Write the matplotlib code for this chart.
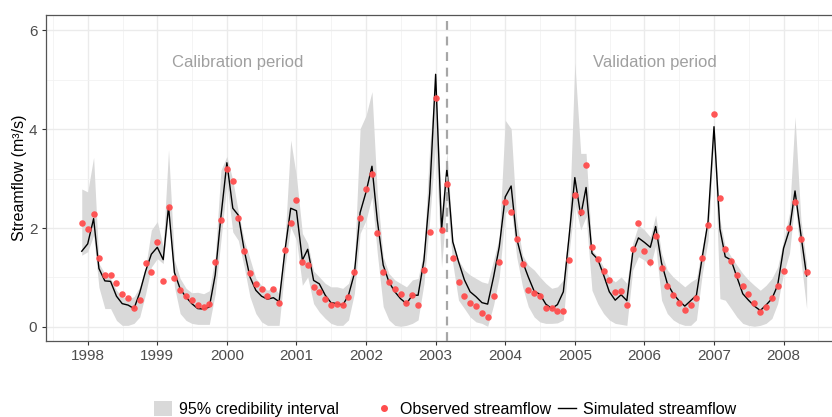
import numpy as np
import pandas as pd
import matplotlib
matplotlib.use("Agg")
import matplotlib.pyplot as plt
from matplotlib.lines import Line2D
from matplotlib.patches import Patch

plt.rcParams["font.family"] = ["Liberation Sans", "DejaVu Sans"]

# ── Data (monthly, Dec 1997 - May 2008) ───────────────────
dates = pd.date_range("1997-12-01", periods=126, freq="MS")

observed = [
    2.11, 1.98, 2.29, 1.39, 1.05, 1.04, 0.88, 0.66, 0.58, 0.39, 0.55, 1.30, 1.11, 1.71, 0.93, 2.42, 0.99, 0.74, 0.63, 0.54, 0.44,
    0.40, 0.46, 1.32, 2.17, 3.19, 2.96, 2.21, 1.53, 1.09, 0.86, 0.77, 0.62, 0.76, 0.49, 1.55, 2.11, 2.56, 1.31, 1.26, 0.81, 0.71,
    0.57, 0.45, 0.46, 0.44, 0.60, 1.10, 2.20, 2.79, 3.09, 1.90, 1.12, 0.91, 0.77, 0.67, 0.49, 0.65, 0.44, 1.15, 1.91, 4.64, 1.95,
    2.90, 1.39, 0.90, 0.63, 0.49, 0.43, 0.29, 0.20, 0.62, 1.31, 2.53, 2.33, 1.78, 1.28, 0.75, 0.68, 0.62, 0.39, 0.39, 0.33,
    0.32, 1.36, 2.67, 2.33, 3.28, 1.61, 1.38, 1.13, 0.94, 0.70, 0.72, 0.44, 1.57, 2.10, 1.53, 1.32, 1.83, 1.20, 0.82, 0.64, 0.49,
    0.35, 0.44, 0.58, 1.39, 2.06, 4.31, 2.61, 1.57, 1.33, 1.05, 0.83, 0.66, 0.49, 0.30, 0.40, 0.59, 0.82, 1.13, 2.00, 2.52, 1.77, 1.11,
]

simulated = [
    1.53, 1.68, 2.19, 1.18, 0.93, 0.92, 0.62, 0.47, 0.44, 0.37, 0.69, 1.13, 1.47, 1.61, 1.36, 2.43, 1.10, 0.77, 0.60, 0.47, 0.37,
    0.36, 0.40, 1.05, 2.23, 3.32, 2.40, 2.26, 1.55, 1.01, 0.74, 0.62, 0.56, 0.59, 0.51, 1.55, 2.40, 2.35, 1.35, 1.57, 0.94, 0.87,
    0.64, 0.49, 0.47, 0.44, 0.64, 1.08, 2.31, 2.73, 3.25, 2.16, 1.25, 0.91, 0.71, 0.57, 0.47, 0.64, 0.64, 1.35, 2.70, 5.11, 1.96,
    3.20, 1.72, 1.32, 0.95, 0.71, 0.61, 0.49, 0.46, 1.01, 1.62, 2.63, 2.85, 1.79, 1.32, 1.01, 0.72, 0.66, 0.46, 0.37, 0.45,
    0.71, 1.82, 3.02, 2.25, 2.82, 1.49, 1.37, 1.05, 0.71, 0.54, 0.65, 0.53, 1.50, 1.80, 1.71, 1.61, 2.03, 1.29, 0.88, 0.67, 0.53,
    0.42, 0.53, 0.64, 1.42, 2.13, 4.05, 1.98, 1.42, 1.35, 1.01, 0.67, 0.54, 0.42, 0.33, 0.44, 0.57, 0.84, 1.59, 1.97, 2.75, 1.86, 1.03,
]

ci_lower = [
    1.45, 1.52, 1.85, 0.80, 0.37, 0.37, 0.13, 0.03, 0.03, 0.07, 0.20, 0.67, 1.21, 1.38, 1.28, 2.29, 0.81, 0.27, 0.13, 0.07, 0.05,
    0.05, 0.05, 0.67, 1.75, 2.90, 1.92, 1.75, 1.21, 0.61, 0.27, 0.10, 0.03, 0.03, 0.03, 1.21, 2.02, 1.75, 0.84, 1.01, 0.47, 0.30,
    0.17, 0.07, 0.03, 0.03, 0.14, 0.68, 1.89, 2.16, 2.63, 1.49, 0.41, 0.14, 0.03, 0.01, 0.03, 0.07, 0.14, 0.88, 2.16, 3.70, 1.20,
    2.56, 1.28, 0.54, 0.37, 0.20, 0.10, 0.07, 0.01, 0.44, 1.01, 2.30, 2.43, 1.42, 0.81, 0.41, 0.20, 0.10, 0.07, 0.07, 0.08,
    0.14, 1.50, 2.50, 1.96, 2.23, 0.74, 0.47, 0.27, 0.14, 0.07, 0.05, 0.03, 1.15, 1.42, 1.35, 1.21, 1.65, 0.54, 0.27, 0.14, 0.07,
    0.03, 0.03, 0.14, 1.08, 1.75, 3.85, 0.57, 0.54, 0.37, 0.20, 0.07, 0.03, 0.01, 0.03, 0.07, 0.17, 0.47, 1.08, 1.49, 2.56, 1.35, 0.37,
]

ci_upper = [
    2.79, 2.73, 3.43, 1.28, 1.08, 0.98, 0.74, 0.61, 0.57, 0.61, 0.81, 1.21, 1.96, 2.13, 1.62, 3.58, 1.35, 0.98, 0.78, 0.69, 0.70,
    0.67, 0.73, 1.42, 3.17, 3.45, 2.97, 2.33, 1.75, 1.38, 0.98, 0.84, 0.74, 0.81, 0.67, 1.75, 3.78, 3.04, 1.89, 1.69, 1.13, 1.01,
    0.88, 0.81, 0.81, 0.78, 0.88, 1.28, 4.01, 4.28, 4.76, 2.70, 1.42, 1.08, 0.95, 0.88, 0.81, 0.95, 0.98, 1.55, 3.64, 5.10, 2.30,
    3.54, 1.75, 1.35, 1.15, 1.05, 0.98, 0.91, 0.88, 1.35, 1.82, 4.18, 4.01, 2.16, 1.45, 1.25, 1.15, 1.01, 0.88, 0.78, 0.81,
    0.95, 2.03, 5.35, 3.51, 3.51, 1.55, 1.42, 1.21, 1.01, 0.91, 1.01, 0.88, 1.69, 2.06, 1.96, 1.82, 2.26, 1.49, 1.15, 1.01, 0.91,
    0.81, 0.91, 0.98, 1.62, 2.23, 4.15, 2.16, 1.62, 1.42, 1.25, 1.08, 0.95, 0.84, 0.74, 0.84, 0.98, 1.21, 1.75, 2.30, 4.25, 2.16, 1.28,
]

split_date = pd.Timestamp("2003-03-01")
years = list(range(1998, 2009))


def dec_year(d):
    d = pd.DatetimeIndex(d)
    return d.year + (d.dayofyear - 1) / 365.25


t = dec_year(dates)
t_split = dec_year([split_date])[0]

# ── Plot ───────────────────────────────────────────────────
fig = plt.figure(figsize=(8.32, 4.17), dpi=100)
ax = fig.add_axes([0.0549, 0.183, 0.958, 0.781])

ax.fill_between(t, ci_lower, ci_upper, color="#D9D9D9", lw=0, zorder=2)
ax.plot(t, simulated, color="black", lw=1.0, zorder=3)
ax.scatter(t, observed, s=22, color="#FF4D4D", alpha=0.95, lw=0, zorder=4)
ax.axvline(t_split, color="#A6A6A6", lw=1.6, ls=(0, (4, 3)), zorder=3)

ax.text(2000.16, 5.34, "Calibration period", color="#A0A0A0", fontsize=12,
        ha="center", va="center")
ax.text(2006.15, 5.34, "Validation period", color="#A0A0A0", fontsize=12,
        ha="center", va="center")

ax.set_xlim(1997.396, 2008.85)
ax.set_ylim(-0.28, 6.31)
ax.set_xticks(years)
ax.set_xticks([y + 0.5 for y in range(1997, 2009)], minor=True)
ax.set_yticks([0, 2, 4, 6])
ax.set_yticks([1, 3, 5], minor=True)
ax.grid(which="major", color="#EBEBEB", lw=1.0, zorder=0)
ax.grid(which="minor", color="#F2F2F2", lw=0.6, zorder=0)
ax.set_axisbelow(True)
ax.tick_params(which="major", length=3, color="#333333", labelsize=11,
               labelcolor="#4D4D4D", pad=3)
ax.tick_params(which="minor", length=0)
for s in ax.spines.values():
    s.set_color("#555555")
    s.set_linewidth(0.9)
ax.set_ylabel("Streamflow (m³/s)", fontsize=11.5, color="black", labelpad=1)

# ── Legend ─────────────────────────────────────────────────
leg_kw = dict(frameon=False, fontsize=11.5, borderpad=0, borderaxespad=0,
              handlelength=1.1, handleheight=1.1, handletextpad=0.45)
fig.legend([Patch(facecolor="#D9D9D9", edgecolor="none")],
           ["95% credibility interval"], loc="center left",
           bbox_to_anchor=(154 / 832, 0.019), **leg_kw)
fig.legend([Line2D([], [], marker="o", ls="none", color="#FF4D4D", markersize=4),
            Line2D([], [], color="black", lw=1.0)],
           ["Observed streamflow", "Simulated streamflow"], loc="center left",
           bbox_to_anchor=(375 / 832, 0.019), ncol=2, columnspacing=0.45, **leg_kw)

fig.savefig("out.png", dpi=100)
